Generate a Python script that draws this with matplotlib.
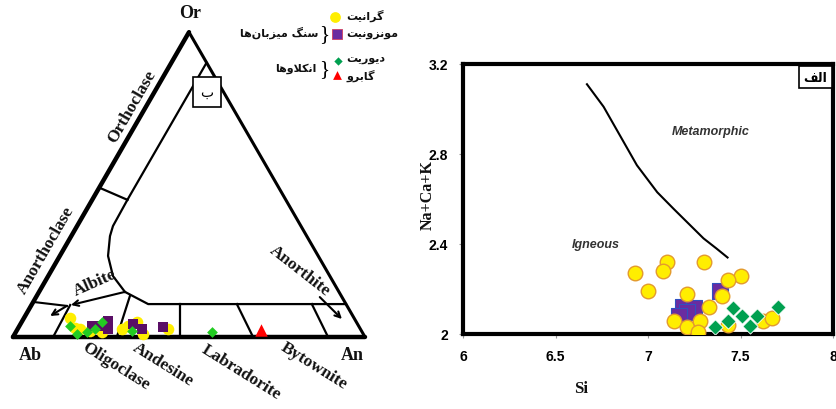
import numpy as np
import matplotlib
matplotlib.use('Agg')
import matplotlib.pyplot as plt

# Right panel: Si vs Na+Ca+K
granite_si = [6.93, 7.00, 7.10, 7.08, 7.30, 7.50, 7.43, 7.40, 7.21, 7.33, 7.14, 7.21, 7.28, 7.27, 7.43, 7.62, 7.67]
granite_nck = [2.27, 2.19, 2.32, 2.28, 2.32, 2.26, 2.24, 2.17, 2.18, 2.12, 2.06, 2.03, 2.06, 2.01, 2.04, 2.06, 2.07]
monzonite_si = [7.19, 7.25, 7.21, 7.17, 7.39]
monzonite_nck = [2.12, 2.115, 2.10, 2.08, 2.19]
diorite_si = [7.46, 7.51, 7.43, 7.36, 7.55, 7.59, 7.70]
diorite_nck = [2.115, 2.08, 2.06, 2.03, 2.035, 2.08, 2.12]
boundary_si = [6.67, 6.76, 6.85, 6.94, 7.05, 7.14, 7.22, 7.30, 7.37, 7.43]
boundary_nck = [3.11, 3.01, 2.88, 2.75, 2.63, 2.555, 2.49, 2.425, 2.38, 2.34]
x_ticks = [6, 6.5, 7, 7.5, 8]
x_tick_labels = ['6', '6.5', '7', '7.5', '8']
y_ticks = [2, 2.4, 2.8, 3.2]
y_tick_labels = ['2', '2.4', '2.8', '3.2']

# Left panel: Ab-An-Or ternary (percent An, percent Or)
granite_an = [13.1, 16.1, 17.7, 24.5, 29.7, 30.9, 32.7, 36.4, 42.7, 20.9]
granite_or = [6.2, 3.0, 2.6, 1.6, 2.6, 3.6, 4.9, 1.0, 2.6, 2.0]
monzonite_an = [20.6, 22.9, 25.7, 24.4, 32.0, 35.3, 41.0]
monzonite_or = [3.6, 3.6, 2.6, 5.2, 4.3, 2.6, 3.3]
diorite_an = [14.4, 17.7, 20.2, 22.0, 22.8, 32.8, 55.7]
diorite_or = [3.6, 1.0, 1.6, 2.6, 4.9, 2.0, 1.6]
gabbro_an = [69.2]
gabbro_or = [2.3]

# field boundaries (An, Or) in percent
field_lines = [
    [(10, 90), (10, 45)],
    [(0, 49), (10, 45)],
    [(10, 45), (10.2, 36.4), (11, 33.1), (13.7, 26.6), (18.4, 20), (24.4, 14.8)],
    [(24.4, 14.8), (33, 10.8), (89.2, 10.8)],
    [(11, 10.5), (11.4, 0)],
    [(26.5, 13.4), (29.5, 0)],
    [(42, 10.8), (47.4, 0)],
    [(58.2, 10.8), (68.2, 0)],
    [(79.5, 10.8), (89.5, 0)],
]

H = np.sqrt(3) / 2


def tern_xy(an, orr):
    an = np.asarray(an) / 100.0
    orr = np.asarray(orr) / 100.0
    return an + orr / 2, orr * H


def pix(px, py):
    # pixel position -> ternary axes data position (for text placement)
    return (px - 13) / 352.0, (338 - py) / 352.0


# Persian text shaping (matplotlib does not join Arabic letters)
FORMS = {
    '\u0627': ('\uFE8D', '\uFE8E', None, None),
    '\u0628': ('\uFE8F', '\uFE90', '\uFE91', '\uFE92'),
    '\u062A': ('\uFE95', '\uFE96', '\uFE97', '\uFE98'),
    '\u062F': ('\uFEA9', '\uFEAA', None, None),
    '\u0631': ('\uFEAD', '\uFEAE', None, None),
    '\u0632': ('\uFEAF', '\uFEB0', None, None),
    '\u0633': ('\uFEB1', '\uFEB2', '\uFEB3', '\uFEB4'),
    '\u0641': ('\uFED1', '\uFED2', '\uFED3', '\uFED4'),
    '\u0644': ('\uFEDD', '\uFEDE', '\uFEDF', '\uFEE0'),
    '\u0645': ('\uFEE1', '\uFEE2', '\uFEE3', '\uFEE4'),
    '\u0646': ('\uFEE5', '\uFEE6', '\uFEE7', '\uFEE8'),
    '\u0647': ('\uFEE9', '\uFEEA', '\uFEEB', '\uFEEC'),
    '\u0648': ('\uFEED', '\uFEEE', None, None),
    '\u06A9': ('\uFB8E', '\uFB8F', '\uFB90', '\uFB91'),
    '\u06AF': ('\uFB92', '\uFB93', '\uFB94', '\uFB95'),
    '\u06CC': ('\uFBFC', '\uFBFD', '\uFBFE', '\uFBFF'),
    'LA': ('\uFEFB', '\uFEFC', None, None),
}


def shape_fa(s):
    toks = []
    i = 0
    while i < len(s):
        c = s[i]
        if c == '\u0644' and i + 1 < len(s) and s[i + 1] == '\u0627':
            toks.append('LA')
            i += 2
            continue
        toks.append(c)
        i += 1
    out = []
    for k, t in enumerate(toks):
        if t not in FORMS:
            if t != '\u200c':
                out.append(t)
            continue
        prev = toks[k - 1] if k > 0 else None
        nxt = toks[k + 1] if k + 1 < len(toks) else None
        joins_prev = prev in FORMS and FORMS[prev][2] is not None
        joins_next = FORMS[t][2] is not None and nxt in FORMS
        iso, fin, ini, med = FORMS[t]
        if joins_prev and joins_next:
            out.append(med)
        elif joins_prev:
            out.append(fin)
        elif joins_next:
            out.append(ini)
        else:
            out.append(iso)
    return ''.join(reversed(out))


serif = ['Liberation Serif', 'DejaVu Serif']
fa_font = ['DejaVu Sans']

fig = plt.figure(figsize=(8.36, 4.10), dpi=100)

# ---- ternary panel ----
ax_t = fig.add_axes([0, 0, 420 / 836, 1])
ax_t.set_xlim(pix(0, 0)[0], pix(420, 0)[0])
ax_t.set_ylim(pix(0, 410)[1], pix(0, 0)[1])
ax_t.axis('off')

ax_t.plot([0, 0.5], [0, H], color='black', lw=3.2, solid_capstyle='round')
ax_t.plot([0.5, 1], [H, 0], color='black', lw=2.2, solid_capstyle='round')
ax_t.plot([0, 1], [0, 0], color='black', lw=3.2, solid_capstyle='round')
for seg in field_lines:
    a, o = zip(*seg)
    xs, ys = tern_xy(a, o)
    ax_t.plot(xs, ys, color='black', lw=1.6)

# label arrows
def tern_arrow(p0, p1):
    x0, y0 = tern_xy(*p0)
    x1, y1 = tern_xy(*p1)
    ax_t.annotate('', xy=(x1, y1), xytext=(x0, y0),
                  arrowprops=dict(arrowstyle='->', lw=1.5, color='black',
                                  mutation_scale=10, shrinkA=0, shrinkB=0))

tern_arrow((24.4, 14.8), (11.2, 10.5))
xa, ya = tern_xy([0, 10.2], [11.5, 10.2])
ax_t.plot(xa, ya, color='black', lw=1.5)
tern_arrow((10.2, 10.2), (7.1, 6.9))
tern_arrow((80.6, 13.1), (90.5, 5.9))

x, y = tern_xy(monzonite_an, monzonite_or)
ax_t.scatter(x, y, marker='s', s=55, color='#5a0f66', zorder=3, linewidths=0)
x, y = tern_xy(granite_an, granite_or)
ax_t.scatter(x, y, marker='o', s=70, color='#ffee00', zorder=2, linewidths=0)
x, y = tern_xy(diorite_an, diorite_or)
ax_t.scatter(x, y, marker='D', s=30, color='#22cc22', zorder=4, linewidths=0)
x, y = tern_xy(gabbro_an, gabbro_or)
ax_t.scatter(x, y, marker='^', s=80, color='#ff0000', zorder=4, linewidths=0)

bold = dict(fontweight='bold', family=serif, color='#111111')
ax_t.text(*pix(190, 14), 'Or', fontsize=13, ha='center', va='center', **bold)
ax_t.text(*pix(30, 356), 'Ab', fontsize=13, ha='center', va='center', **bold)
ax_t.text(*pix(352, 356), 'An', fontsize=13, ha='center', va='center', **bold)
ax_t.text(*pix(132, 107), 'Orthoclase', fontsize=12.5, rotation=60, ha='center', va='center', **bold)
ax_t.text(*pix(46, 250), 'Anorthoclase', fontsize=12.5, rotation=60, ha='center', va='center', **bold)
ax_t.text(*pix(95, 283), 'Albite', fontsize=12.5, rotation=24, ha='center', va='center', **bold)
ax_t.text(*pix(300, 271), 'Anorthite', fontsize=12.5, rotation=-38, ha='center', va='center', **bold)
ax_t.text(*pix(116, 366), 'Oligoclase', fontsize=12.5, rotation=-32, ha='center', va='center', **bold)
ax_t.text(*pix(163, 365), 'Andesine', fontsize=12.5, rotation=-32, ha='center', va='center', **bold)
ax_t.text(*pix(241, 373), 'Labradorite', fontsize=12.5, rotation=-32, ha='center', va='center', **bold)
ax_t.text(*pix(314, 366), 'Bytownite', fontsize=12.5, rotation=-32, ha='center', va='center', **bold)
ax_t.text(*pix(207, 93), shape_fa('\u0628'), fontsize=10, ha='center', va='center',
          family=fa_font, bbox=dict(boxstyle='square,pad=0.55', fc='white', ec='black', lw=1.2))

# ---- Si vs Na+Ca+K panel ----
ax = fig.add_axes([463 / 836, 75 / 410, 370 / 836, 270 / 410])
ax.plot(boundary_si, boundary_nck, color='black', lw=1.5)
ax.scatter(monzonite_si, monzonite_nck, marker='s', s=120, color='#6a2ca0', edgecolors='#3050c0', linewidths=0.8, zorder=2)
ax.scatter(granite_si, granite_nck, marker='o', s=110, color='#ffee00', edgecolors='#e39a2e', linewidths=1.0, zorder=3)
ax.scatter(diorite_si, diorite_nck, marker='D', s=60, color='#00a050', edgecolors='white', linewidths=0.6, zorder=4)
ax.set_xlim(6, 8)
ax.set_ylim(2, 3.2)
ax.set_xticks(x_ticks)
ax.set_xticklabels(x_tick_labels)
ax.set_yticks(y_ticks)
ax.set_yticklabels(y_tick_labels)
for lab in ax.get_xticklabels() + ax.get_yticklabels():
    lab.set_fontweight('bold')
    lab.set_family(['Liberation Sans', 'DejaVu Sans'])
    lab.set_fontsize(10)
ax.tick_params(direction='out', length=3, width=0.8, color='#999999', pad=8)
for sp in ax.spines.values():
    sp.set_linewidth(3)
ax.set_xlabel('Si', fontsize=12, **bold)
ax.xaxis.set_label_coords(0.32, -0.17)
ax.set_ylabel('Na+Ca+K', fontsize=11.5, **bold)
ax.yaxis.set_label_coords(-0.075, 0.52)
ax.text(7.34, 2.9, 'Metamorphic', fontsize=9, style='italic', fontweight='bold',
        color='#333333', ha='center', va='center', family=['Liberation Sans', 'DejaVu Sans'])
ax.text(6.72, 2.4, 'Igneous', fontsize=9, style='italic', fontweight='bold',
        color='#333333', ha='center', va='center', family=['Liberation Sans', 'DejaVu Sans'])
ax.text(0.985, 0.975, shape_fa('\u0627\u0644\u0641'), transform=ax.transAxes, fontsize=9,
        fontweight='bold', family=fa_font, ha='right', va='top',
        bbox=dict(boxstyle='square,pad=0.35', fc='white', ec='black', lw=1.2))

# ---- legend (pixel overlay) ----
ov = fig.add_axes([0, 0, 1, 1])
ov.set_xlim(0, 836)
ov.set_ylim(410, 0)
ov.axis('off')
ov.scatter([335], [18], marker='o', s=60, color='#ffee00', linewidths=0)
ov.scatter([337], [35], marker='s', s=45, color='#6a2ca0', edgecolors='#d04060', linewidths=0.6)
ov.scatter([338], [62], marker='D', s=18, color='#00a050', linewidths=0)
ov.scatter([337], [76], marker='^', s=40, color='#ff0000', linewidths=0)
fa_kw = dict(fontsize=8, fontweight='bold', family=fa_font, va='center', color='#111111')
ov.text(346, 16, shape_fa('\u06AF\u0631\u0627\u0646\u06CC\u062A'), ha='left', **fa_kw)
ov.text(346, 35, shape_fa('\u0645\u0648\u0646\u0632\u0648\u0646\u06CC\u062A'), ha='left', **fa_kw)
ov.text(346, 59, shape_fa('\u062F\u06CC\u0648\u0631\u06CC\u062A'), ha='left', **fa_kw)
ov.text(346, 76, shape_fa('\u06AF\u0627\u0628\u0631\u0648'), ha='left', **fa_kw)
ov.text(318, 33, shape_fa('\u0633\u0646\u06AF \u0645\u06CC\u0632\u0628\u0627\u0646\u200c\u0647\u0627'), ha='right', **fa_kw)
ov.text(316, 69, shape_fa('\u0627\u0646\u06A9\u0644\u0627\u0648\u0647\u0627'), ha='right', **fa_kw)
ov.text(324, 35, '}', fontsize=15, family=serif, ha='center', va='center')
ov.text(324, 70, '}', fontsize=15, family=serif, ha='center', va='center')

fig.savefig('out.png', dpi=100)
